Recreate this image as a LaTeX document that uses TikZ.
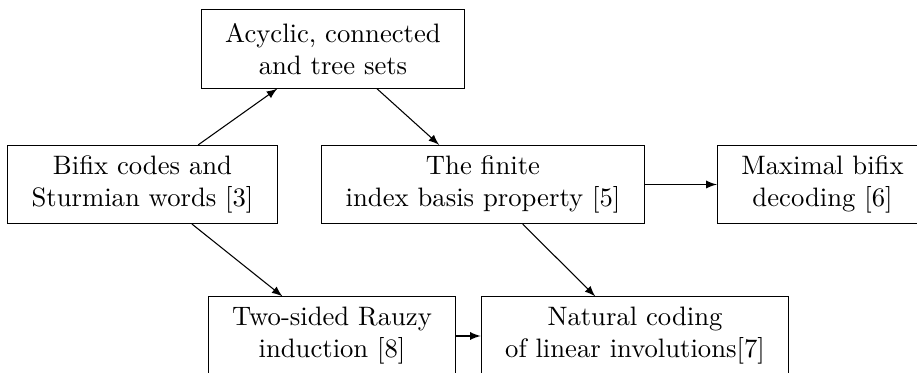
\documentclass[tikz,border=0pt]{standalone}
\usepackage{tikz}
\usetikzlibrary{positioning}
\usetikzlibrary{arrows}
\tikzset {
  % one pixel of the layout
  x={0.375pt}, y={-0.375pt},
  % boxed topic
  topic/.style = {draw, rectangle, align=center, inner xsep=9pt, inner ysep=3pt, minimum height=29.3pt},
  % dependency between topics
  dep/.style = {-latex},
}
\begin{document}
\begin{tikzpicture}
        \useasboundingbox (0, 0) rectangle (917, 373);

        \node[topic] (acyc) at (333, 49) {Acyclic, connected\\and tree sets};
        \node[topic] (bifix) at (142.5, 184.5) {Bifix codes and\\Sturmian words [3]};
        \node[topic] (fib) at (483, 184.5) {The finite\\index basis property [5]};
        \node[topic] (maxb) at (822.5, 184.5) {Maximal bifix\\decoding [6]};
        \node[topic] (rauzy) at (332, 336) {Two-sided Rauzy\\induction [8]};
        \node[topic] (invol) at (635, 336) {Natural coding\\of linear involutions[7]};

        \draw [dep] (bifix) -- (acyc);
        \draw [dep] (acyc) -- (fib);
        \draw [dep] (fib) -- (maxb);

        \draw [dep] (bifix) -- (rauzy);
        \draw [dep] (fib) -- (invol);
        \draw [dep] (rauzy) -- (invol);
      \end{tikzpicture}
\end{document}
